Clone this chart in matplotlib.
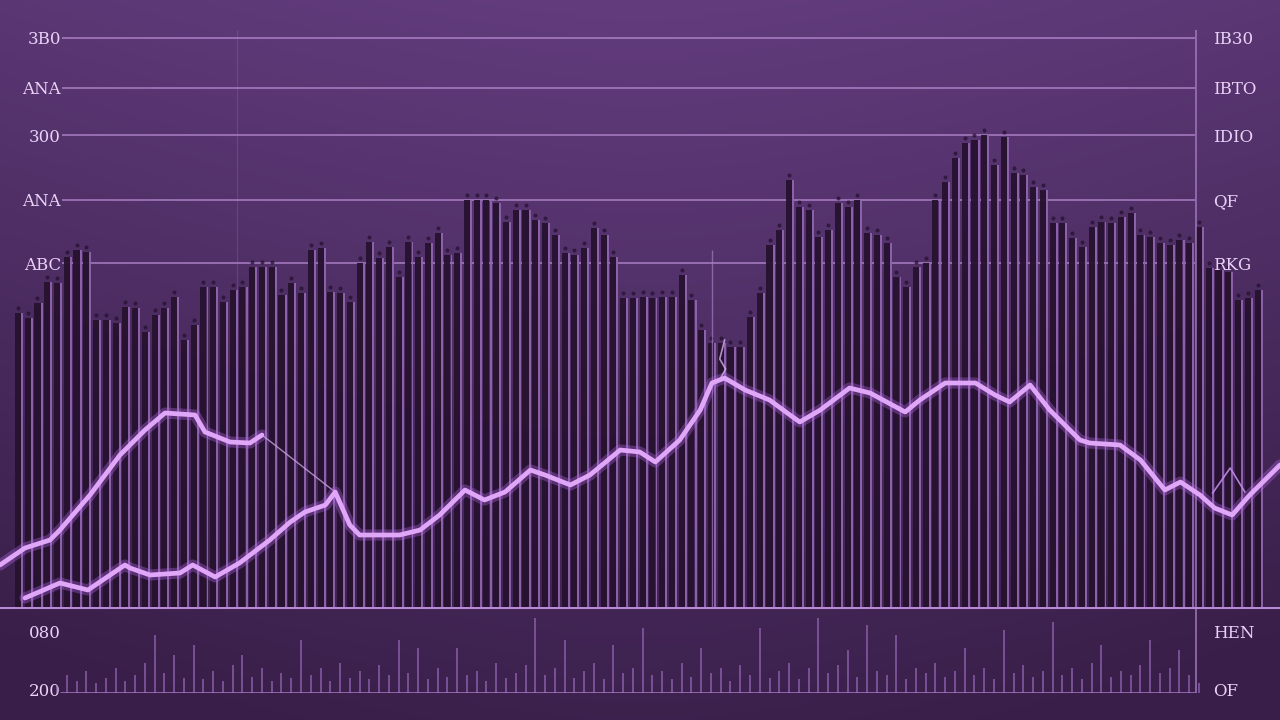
import numpy as np
import matplotlib.pyplot as plt

# bar tops, height above the baseline (one bar per day)
bar_heights = [294, 289, 304, 325, 324, 350, 357, 355, 287, 287, 284, 300, 299, 275, 292, 299,
               310, 267, 282, 320, 320,
               305, 317, 320, 340, 340, 340, 312, 324, 314, 357, 359, 315, 314, 305, 344, 365,
               349, 360, 330, 365,
               350, 364, 374, 352, 354, 407, 407, 407, 404, 385, 397, 397, 387, 384, 372, 354,
               352, 359, 379, 372, 350,
               309, 309, 310, 309, 310, 310, 332, 307, 277, 264, 264, 260, 260, 290, 314, 362,
               377, 427, 400, 397, 370,
               377, 404, 400, 407, 374, 372, 364, 330, 320, 340, 344, 407, 425, 449, 464, 467,
               472, 442, 470, 434, 432, 420, 417, 384,
               384, 369, 360, 380, 385, 384, 390, 394, 372, 370, 364, 362, 367, 364, 380, 339,
               337, 335, 307, 309, 317]
days = np.arange(len(bar_heights))

volume = [0, 0, 0, 0, 8, 18, 12, 22, 10, 15, 25, 12, 18, 30, 58, 20, 38, 15, 48, 14,
          22, 12, 28, 38, 16, 25, 12, 20, 15, 53, 18, 25, 12, 30, 15, 22, 14, 28, 18, 53,
          20, 45, 14, 25, 16, 45, 18, 22, 12, 30, 15, 20, 28, 75, 18, 25, 53, 15, 22, 30,
          14, 48, 20, 25, 65, 18, 22, 14, 30, 16, 45, 20, 25, 12, 28, 18, 65, 15, 22, 30,
          14, 25, 75, 20, 28, 43, 16, 68, 22, 18, 58, 14, 25, 20, 30, 16, 22, 45, 18, 25,
          14, 63, 20, 28, 16, 22, 71, 18, 25, 14, 30, 48, 16, 22, 18, 28, 53, 20, 25, 43,
          18, 10, 0, 0, 0, 0, 0, 0]

# upper line (left hump), then the faint link down to the lower line
upper_x = [-1.84, 0.72, 3.28, 4.30, 7.38, 10.45, 13.01, 15.06, 18.14, 19.16, 21.72, 23.77, 25.0, 32.5]
upper_y = [42, 59, 67, 77, 112, 152, 177, 194, 192, 175, 165, 164, 172, 115]

lower_x = [0.72, 4.30, 7.17, 10.96, 11.48, 13.52, 16.6, 17.9, 20.2, 22.7, 25.8, 27.9, 29.4, 31.5,
           32.5, 34.0, 35.0, 39.1, 41.2, 43.2, 45.8, 47.8, 49.9, 52.5, 54.0, 56.6, 58.6, 61.7,
           63.7, 65.3, 67.8, 69.9, 71.1, 72.4, 74.5, 77.0, 79.1, 80.1, 82.2, 85.2, 87.3, 90.9,
           92.4, 95.0, 98.1, 100.1, 101.6, 103.7, 105.7, 108.8, 109.8, 112.9, 115.0, 117.5,
           119.1, 121.1, 122.6, 124.4, 126.2, 129.3]
lower_y = [9, 24, 17, 42, 39, 32, 34, 42, 30, 44, 67, 85, 95, 102,
           115, 82, 72, 72, 77, 92, 117, 107, 115, 137, 132, 122, 132, 157,
           155, 145, 167, 197, 224, 229, 217, 207, 192, 185, 197, 219, 214, 195,
           207, 224, 224, 212, 205, 222, 197, 167, 164, 162, 147, 117,
           125, 112, 99, 92, 112, 142]

echo_x = [122.4, 124.2, 125.7]
echo_y = [114, 139, 115]
wisp_x = [72.4, 71.9, 72.5, 72.0]
wisp_y = [267, 248, 238, 229]

grid_levels = [344, 407, 472, 519, 569]
left_labels = ['ABC', 'ANA', '300', 'ANA', '3B0']
right_labels = ['RKG', 'QF', 'IDIO', 'IBTO', 'IB30']
vol_levels = [3, 61]
vol_left = ['200', '080']
vol_right = ['OF', 'HEN']

W, H = 1280, 720
fig = plt.figure(figsize=(12.8, 7.2), dpi=100)

# background gradient
bg = fig.add_axes([0, 0, 1, 1], zorder=-5)
yy, xx = np.mgrid[0:1:200j, 0:1:320j]
top = np.array([98, 60, 125]) / 255
bot = np.array([56, 30, 72]) / 255
t = np.clip(yy * 0.9 + 0.25 * np.abs(xx - 0.5) ** 1.5 * 2, 0, 1)[..., None]
bg.imshow(top * (1 - t) + bot * t, aspect='auto', extent=[0, 1, 0, 1], origin='upper')
bg.axis('off')

xlim = (-1.84, 129.3)
base = 607
ax = fig.add_axes([0, (H - base) / H, 1, base / H])
ax.set_xlim(*xlim)
ax.set_ylim(0, base)
ax.patch.set_alpha(0)
for s in ax.spines.values():
    s.set_visible(False)
ax.set_xticks([])

ax.hlines(grid_levels, 4.5, 120.6, color='#b58ad0', lw=1.3, alpha=0.75, zorder=1)
ax.vlines([120.7], 0, 577, color='#a67cc2', lw=1.3, alpha=0.8, zorder=3)
ax.vlines([71.1], 0, 357, color='#a67cc2', lw=1.0, alpha=0.7, zorder=3)
ax.vlines([22.4], 300, 577, color='#a67cc2', lw=0.8, alpha=0.25, zorder=1)

ax.bar(days, bar_heights, width=0.62, color='#26122f', alpha=0.95, zorder=2)
ax.bar(days + 0.42, bar_heights, width=0.2, color='#8f64ae', alpha=0.95, zorder=2)
ax.scatter(days, np.array(bar_heights) + 5, s=4, color='#241030', alpha=0.6, zorder=2)

# glowing lines
glow = dict(color='#b467e8', alpha=0.35, solid_capstyle='round', zorder=4)
core = dict(color='#e0a6f8', solid_capstyle='round', zorder=5)
ax.plot(upper_x[:13], upper_y[:13], lw=8, **glow)
ax.plot(upper_x[:13], upper_y[:13], lw=3.4, **core)
ax.plot(upper_x[12:], upper_y[12:], lw=1.0, color='#c9a3df', alpha=0.8, zorder=4)
ax.plot(lower_x, lower_y, lw=8, **glow)
ax.plot(lower_x, lower_y, lw=3.4, **core)
ax.plot(echo_x, echo_y, lw=1.2, color='#c58ae6', alpha=0.9, zorder=4)
ax.plot(wisp_x, wisp_y, lw=1.2, color='#d5b0ea', alpha=0.8, zorder=4)

lab = dict(color='#ead2f7', family='DejaVu Serif', fontsize=12)
ax.set_yticks(grid_levels)
ax.set_yticklabels(left_labels, **lab)
ax.tick_params(axis='y', length=0, pad=-44)
ax2 = ax.twinx()
ax2.set_ylim(ax.get_ylim())
ax2.set_yticks(grid_levels)
ax2.set_yticklabels(right_labels, **lab)
ax2.tick_params(axis='y', length=0, pad=-48)
for s in ax2.spines.values():
    s.set_visible(False)

# volume panel
vax = fig.add_axes([0, (H - 693) / H, 1, 86 / H])
vax.set_xlim(*xlim)
vax.set_ylim(0, 86)
vax.patch.set_alpha(0)
for s in vax.spines.values():
    s.set_visible(False)
vax.set_xticks([])
vax.axhline(86, color='#b88ad6', lw=2.2, zorder=3)
vax.hlines([0], 4.3, 120.6, color='#a97bc8', lw=1.8, zorder=3)
vax.vlines([120.7], 0, 86, color='#a67cc2', lw=1.3, alpha=0.8)
vax.vlines(days, 0, volume, color='#9d6cc0', lw=1.1, alpha=0.8)
vax.set_yticks(vol_levels)
vax.set_yticklabels(vol_left, **lab)
vax.tick_params(axis='y', length=0, pad=-44)
vax2 = vax.twinx()
vax2.set_ylim(vax.get_ylim())
vax2.set_yticks(vol_levels)
vax2.set_yticklabels(vol_right, **lab)
vax2.tick_params(axis='y', length=0, pad=-48)
for s in vax2.spines.values():
    s.set_visible(False)

fig.savefig('out.png', dpi=100)
